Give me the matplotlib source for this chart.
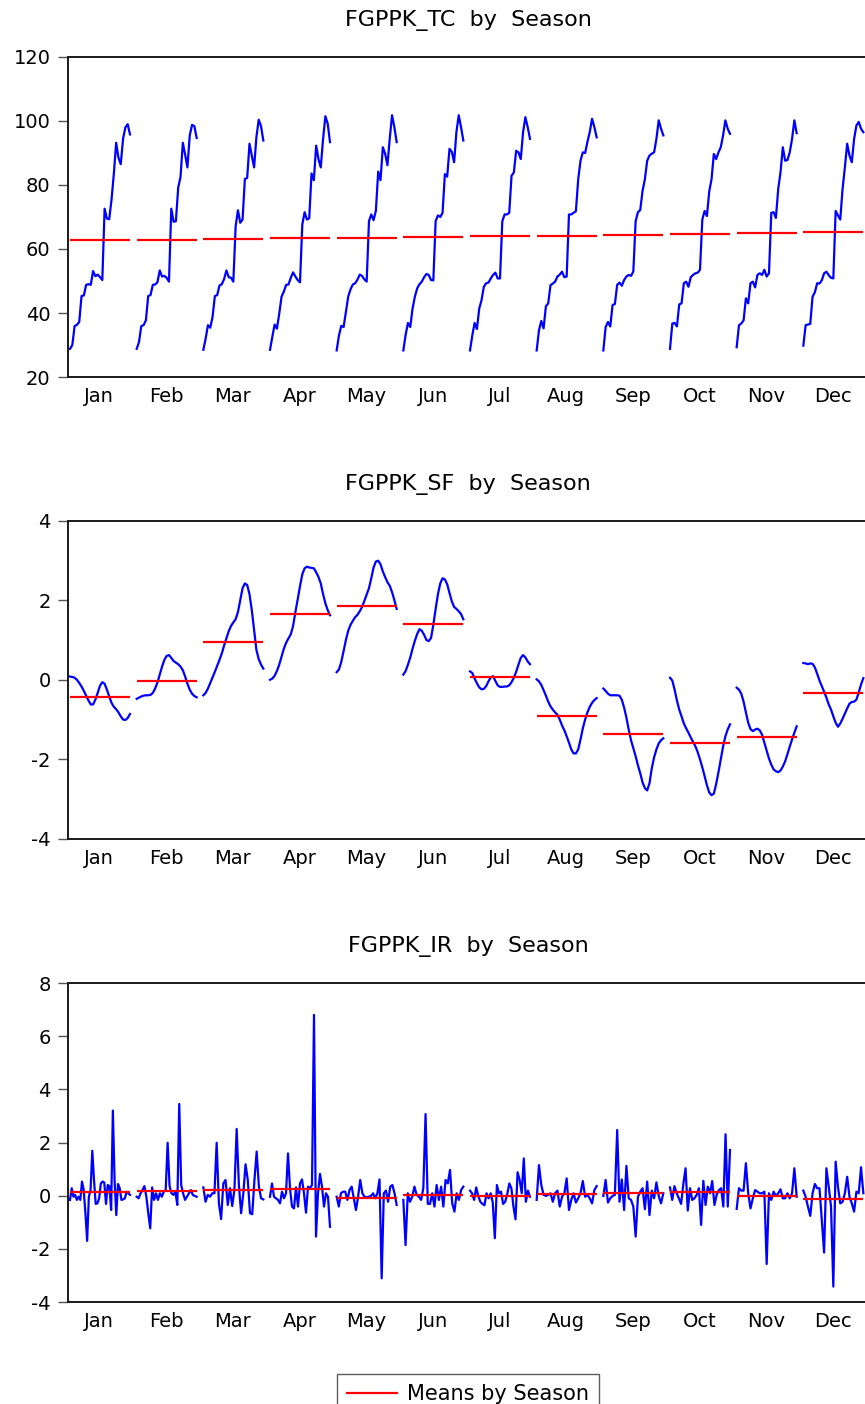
import numpy as np
import matplotlib.pyplot as plt
from matplotlib.lines import Line2D

plt.rcParams['font.family'] = 'DejaVu Sans'
plt.rcParams['axes.unicode_minus'] = False

months = ["Jan", "Feb", "Mar", "Apr", "May", "Jun",
          "Jul", "Aug", "Sep", "Oct", "Nov", "Dec"]

# Trend-cycle, one list per month (years in order)
tc_by_month = [
    [28.8, 30.0, 35.9, 36.3, 37.2, 45.3, 45.5, 48.8, 49.0, 48.8, 53.1, 51.5, 52.0, 51.2,
     50.3, 72.6, 69.5, 69.3, 75.5, 83.5, 93.2, 88.5, 86.5, 94.5, 98.0, 99.0, 95.8],
    [28.8, 30.9, 35.9, 36.2, 37.7, 45.3, 45.6, 48.8, 48.9, 49.6, 53.3, 51.4, 51.6, 51.0,
     49.8, 72.6, 68.5, 68.7, 79.2, 82.5, 93.2, 89.5, 85.5, 95.5, 98.8, 98.4, 94.7],
    [28.5, 32.0, 36.2, 35.4, 38.8, 45.3, 45.6, 48.6, 49.0, 50.6, 53.3, 51.2, 51.0, 49.8,
     67.1, 72.1, 68.2, 69.2, 81.9, 82.2, 92.9, 89.2, 85.5, 95.0, 100.4, 98.4, 93.9],
    [28.5, 32.5, 36.4, 35.1, 39.8, 45.1, 46.7, 48.8, 48.9, 51.0, 52.7, 51.4, 50.3, 49.6,
     67.7, 71.5, 69.2, 69.6, 83.6, 81.5, 92.3, 88.1, 85.5, 94.4, 101.5, 99.2, 93.4],
    [28.3, 33.0, 36.0, 35.6, 40.3, 45.1, 47.4, 48.9, 49.3, 50.4, 52.0, 51.6, 50.5, 49.8,
     68.7, 70.8, 69.0, 72.0, 84.2, 81.5, 91.8, 89.8, 86.2, 94.5, 101.8, 98.1, 93.4],
    [28.3, 33.2, 36.9, 35.6, 41.4, 45.1, 47.7, 49.0, 49.8, 51.2, 52.2, 51.9, 50.3, 50.2,
     68.7, 70.5, 70.0, 71.3, 83.4, 82.6, 91.3, 90.4, 87.1, 96.5, 101.8, 98.1, 93.9],
    [28.3, 33.0, 36.9, 35.0, 41.4, 44.0, 48.2, 49.3, 49.5, 50.8, 51.9, 52.6, 50.8, 50.8,
     68.7, 70.8, 70.8, 71.3, 82.9, 83.9, 90.7, 90.2, 88.1, 96.5, 101.2, 98.1, 94.4],
    [28.3, 34.6, 37.5, 35.2, 42.1, 43.0, 48.7, 49.2, 49.8, 51.4, 52.0, 52.9, 51.2, 51.4,
     70.8, 70.8, 71.3, 71.8, 81.8, 87.6, 90.2, 90.0, 93.5, 96.5, 100.7, 98.1, 94.9],
    [28.3, 35.6, 37.2, 35.8, 42.5, 42.8, 48.8, 49.5, 48.5, 50.3, 51.4, 51.9, 51.6, 53.0,
     68.7, 71.5, 72.2, 78.2, 81.8, 87.6, 89.2, 89.8, 90.2, 94.4, 100.2, 97.6, 95.5],
    [28.8, 36.7, 36.9, 35.8, 42.7, 43.0, 49.3, 49.8, 48.2, 51.2, 51.9, 52.4, 52.6, 53.5,
     69.2, 71.9, 70.3, 78.0, 81.8, 89.7, 88.1, 90.2, 91.8, 95.5, 100.2, 97.6, 96.0],
    [29.3, 36.2, 36.7, 37.7, 44.6, 43.0, 49.3, 49.8, 48.0, 51.9, 52.4, 51.9, 53.5, 51.4,
     52.4, 71.3, 71.5, 69.7, 78.7, 84.0, 91.8, 87.6, 87.8, 90.2, 94.4, 100.2, 96.2],
    [29.8, 36.2, 36.4, 36.6, 45.1, 46.5, 49.3, 49.2, 50.2, 52.4, 52.9, 51.8, 51.0, 50.8,
     71.9, 70.5, 69.2, 78.7, 85.5, 92.9, 89.2, 87.1, 94.4, 98.6, 99.7, 97.6, 96.5],
]
tc_means = [62.7, 62.9, 63.1, 63.3, 63.55, 63.7, 63.95, 64.15, 64.45, 64.7, 64.9, 65.2]

# Seasonal factor
sf_by_month = [
    [0.08, 0.07, 0.05, 0.0, -0.08, -0.17, -0.28, -0.40, -0.52, -0.62, -0.62, -0.50, -0.33, -0.15,
     -0.06, -0.10, -0.25, -0.42, -0.58, -0.68, -0.74, -0.82, -0.92, -1.0, -1.01, -0.96, -0.86],
    [-0.48, -0.45, -0.42, -0.40, -0.39, -0.39, -0.38, -0.33, -0.22, -0.07, 0.13, 0.33, 0.50, 0.60,
     0.62, 0.55, 0.47, 0.43, 0.39, 0.33, 0.24, 0.08, -0.10, -0.25, -0.35, -0.41, -0.44],
    [-0.39, -0.33, -0.22, -0.08, 0.06, 0.20, 0.35, 0.50, 0.66, 0.86, 1.04, 1.22, 1.35, 1.44,
     1.52, 1.70, 2.0, 2.30, 2.42, 2.38, 2.15, 1.75, 1.25, 0.75, 0.52, 0.38, 0.28],
    [0.0, 0.03, 0.10, 0.22, 0.38, 0.58, 0.78, 0.93, 1.04, 1.14, 1.35, 1.70, 2.02, 2.35,
     2.65, 2.80, 2.84, 2.82, 2.81, 2.80, 2.70, 2.58, 2.42, 2.15, 1.92, 1.75, 1.62],
    [0.19, 0.26, 0.45, 0.72, 1.0, 1.23, 1.38, 1.48, 1.57, 1.63, 1.72, 1.83, 1.98, 2.14,
     2.30, 2.55, 2.82, 2.97, 2.99, 2.90, 2.72, 2.58, 2.45, 2.36, 2.20, 2.0, 1.78],
    [0.13, 0.22, 0.38, 0.56, 0.78, 0.98, 1.15, 1.27, 1.23, 1.13, 1.0, 0.97, 1.05, 1.38,
     1.78, 2.15, 2.42, 2.55, 2.52, 2.40, 2.18, 1.97, 1.83, 1.78, 1.72, 1.65, 1.52],
    [0.21, 0.17, 0.03, -0.09, -0.19, -0.24, -0.23, -0.16, -0.04, 0.06, 0.09, -0.03, -0.14, -0.18,
     -0.18, -0.17, -0.17, -0.14, -0.06, 0.05, 0.20, 0.38, 0.55, 0.62, 0.56, 0.46, 0.39],
    [0.01, -0.04, -0.13, -0.26, -0.40, -0.55, -0.67, -0.75, -0.82, -0.88, -1.0, -1.15, -1.27, -1.42,
     -1.58, -1.75, -1.85, -1.85, -1.75, -1.50, -1.22, -1.0, -0.82, -0.68, -0.58, -0.51, -0.46],
    [-0.22, -0.28, -0.35, -0.39, -0.39, -0.39, -0.39, -0.40, -0.50, -0.70, -0.95, -1.25, -1.52, -1.72,
     -1.92, -2.15, -2.35, -2.58, -2.72, -2.78, -2.60, -2.22, -1.95, -1.75, -1.60, -1.52, -1.47],
    [0.05, -0.02, -0.25, -0.52, -0.75, -0.92, -1.10, -1.22, -1.33, -1.45, -1.56, -1.67, -1.82, -2.0,
     -2.20, -2.42, -2.65, -2.83, -2.90, -2.86, -2.62, -2.32, -2.0, -1.68, -1.42, -1.25, -1.12],
    [-0.20, -0.25, -0.35, -0.55, -0.82, -1.08, -1.24, -1.29, -1.25, -1.23, -1.27, -1.38, -1.58, -1.78,
     -1.98, -2.13, -2.25, -2.30, -2.32, -2.28, -2.18, -2.05, -1.87, -1.68, -1.50, -1.33, -1.17],
    [0.42, 0.41, 0.39, 0.41, 0.40, 0.31, 0.15, -0.02, -0.16, -0.30, -0.45, -0.62, -0.75, -0.92,
     -1.08, -1.18, -1.10, -0.98, -0.85, -0.72, -0.60, -0.56, -0.55, -0.50, -0.32, -0.12, 0.04],
]
sf_means = [-0.44, -0.02, 0.95, 1.64, 1.85, 1.40, 0.06, -0.92, -1.37, -1.58, -1.45, -0.33]

# Irregular component
ir_by_month = [
    [-0.16, 0.28, -0.04, 0.03, -0.16, -0.04, -0.16, 0.53, 0.21, -0.66, -1.70, -0.04, 0.21, 1.69,
     0.59, -0.31, -0.29, -0.10, 0.46, 0.53, 0.49, -0.31, 0.40, 0.36, -0.54, 3.20, 0.59, -0.73,
     0.44, 0.28, -0.16, -0.14, -0.10, 0.15, 0.09, 0.03],
    [-0.04, -0.10, 0.09, 0.21, 0.36, -0.04, -0.66, -1.23, 0.31, -0.16, 0.09, -0.16, 0.09, -0.04,
     0.15, 0.21, 1.99, 0.36, 0.09, 0.03, 0.15, -0.35, 3.45, 0.40, 0.09, -0.16, -0.04, 0.09,
     0.21, 0.03, -0.01, -0.04],
    [0.31, -0.23, 0.03, -0.04, 0.09, 0.09, 1.99, -0.29, -0.88, 0.46, 0.59, -0.35, 0.28, -0.39,
     0.24, 2.51, 0.40, -0.66, 0.09, 1.18, 0.59, -0.66, -0.70, 0.59, 1.66, 0.34, -0.10, -0.14],
    [-0.04, 0.46, -0.04, -0.10, -0.16, -0.29, 0.15, -0.10, 0.09, 1.59, 0.28, -0.41, -0.48, 0.31,
     -0.41, 0.46, 0.61, 0.09, -0.64, 0.34, 0.28, 0.40, 6.80, -1.54, 0.09, 0.82, 0.34, -0.41,
     0.09, -0.04, -1.17],
    [-0.04, -0.41, 0.09, 0.15, 0.15, -0.16, 0.21, 0.34, -0.10, -0.54, -0.04, 0.59, 0.09, -0.04,
     -0.06, -0.04, -0.01, 0.09, -0.10, 0.09, 0.61, -3.11, 0.09, 0.19, -0.23, 0.34, 0.40, 0.09,
     -0.35],
    [-0.16, -1.86, 0.09, -0.23, -0.04, 0.34, 0.03, -0.04, -0.16, 0.28, 3.07, -0.31, -0.31, 0.09,
     -0.41, 0.40, -0.16, 0.34, -0.41, 0.59, 0.46, 0.97, -0.29, -0.60, 0.09, -0.16, 0.21, 0.34],
    [0.19, 0.09, -0.16, 0.31, -0.01, -0.23, -0.31, -0.36, 0.09, -0.10, 0.09, -0.26, -1.60, 0.40,
     0.09, 0.15, -0.31, -0.23, 0.06, 0.46, 0.28, -0.41, -0.89, 0.88, 0.59, 0.09, 1.40, -0.23,
     0.19, -0.04],
    [-0.16, 1.15, 0.40, 0.03, -0.01, 0.03, 0.09, -0.23, 0.09, 0.19, -0.41, -0.04, 0.09, 0.65,
     -0.54, -0.16, 0.09, -0.26, -0.10, 0.09, 0.55, -0.04, 0.03, -0.10, -0.29, 0.21, 0.36],
    [-0.01, 0.59, -0.26, -0.10, -0.01, 0.03, 2.47, -0.23, 0.61, -0.54, 1.12, -0.10, -0.16, -0.41,
     -1.54, -0.04, 0.15, 0.28, -0.51, 0.53, -0.73, 0.19, -0.10, 0.50, -0.01, -0.29, 0.09],
    [0.31, -0.16, 0.36, 0.09, -0.10, -0.31, 0.44, 1.03, -0.56, 0.28, -0.16, -0.10, 0.03, 0.28,
     -1.10, 0.56, -0.35, 0.34, 0.09, 0.55, -0.35, 0.03, 0.21, 0.28, -0.41, 2.31, -0.41, 1.72],
    [-0.50, 0.28, 0.19, 0.19, 1.22, 0.09, -0.48, -0.10, 0.21, 0.15, 0.09, 0.09, 0.15, -2.57,
     0.09, -0.16, 0.15, -0.01, 0.09, 0.24, -0.10, -0.10, 0.09, -0.10, 0.09, 1.03, -0.04],
    [0.19, -0.04, -0.41, -0.76, 0.09, 0.44, 0.28, 0.28, -0.92, -2.14, 1.03, 0.34, -0.41, -3.42,
     1.28, 0.34, -0.29, -0.23, 0.09, 0.71, -0.04, -0.29, -0.60, 0.15, 0.09, 1.07, 0.09],
]
ir_means = [0.125, 0.19, 0.23, 0.25, -0.10, 0.04, 0.0, 0.06, 0.09, 0.14, -0.01, -0.11]

W, H = 865, 1404
fig = plt.figure(figsize=(W / 100, H / 100), dpi=100)

panels = [
    ("FGPPK_TC  by  Season", tc_by_month, tc_means, (20, 120), np.arange(20, 121, 20), 57, 377, 26),
    ("FGPPK_SF  by  Season", sf_by_month, sf_means, (-4, 4), np.arange(-4, 5, 2), 520.5, 839, 490),
    ("FGPPK_IR  by  Season", ir_by_month, ir_means, (-4, 8), np.arange(-4, 9, 2), 983, 1302, 952),
]

blue = "#0000ff"
red = "#ff0000"
x0, x1 = 0.03, 0.93

for title, data, means, ylim, yticks, top, bottom, title_y in panels:
    ax = fig.add_axes([68 / W, 1 - bottom / H, 800 / W, (bottom - top) / H])
    for m, vals in enumerate(data):
        x = np.linspace(m + x0, m + x1, len(vals))
        ax.plot(x, vals, color=blue, lw=1.6)
    starts = np.arange(len(months))
    ax.hlines(means, starts + x0, starts + x1, colors=red, lw=1.6)

    ax.set_xlim(0, 12)
    ax.set_ylim(*ylim)
    ax.set_yticks(yticks)
    ax.set_xticks(np.arange(12) + 0.47, months)
    ax.tick_params(axis="x", length=0, pad=7, labelsize=14)
    ax.tick_params(axis="y", length=7, width=1, color="#555555", pad=5.5,
                   labelsize=14, direction="out")
    for side in ["left", "top", "bottom"]:
        ax.spines[side].set_linewidth(1.4)
        ax.spines[side].set_color("#1a1a1a")
    ax.spines["right"].set_visible(False)

    fig.text(468 / W, 1 - title_y / H, title, ha="center", va="baseline", fontsize=16)

handle = Line2D([], [], color=red, lw=1.6)
leg = fig.legend([handle], ["Means by Season"], loc="upper center",
                 bbox_to_anchor=(468 / W, 1 - 1374 / H), fontsize=15,
                 frameon=True, fancybox=False, handlelength=2.4, borderpad=0.5,
                 handletextpad=0.45, borderaxespad=0)
leg.get_frame().set_edgecolor("#333333")
leg.get_frame().set_linewidth(1.0)

fig.savefig("out.png", dpi=100)
